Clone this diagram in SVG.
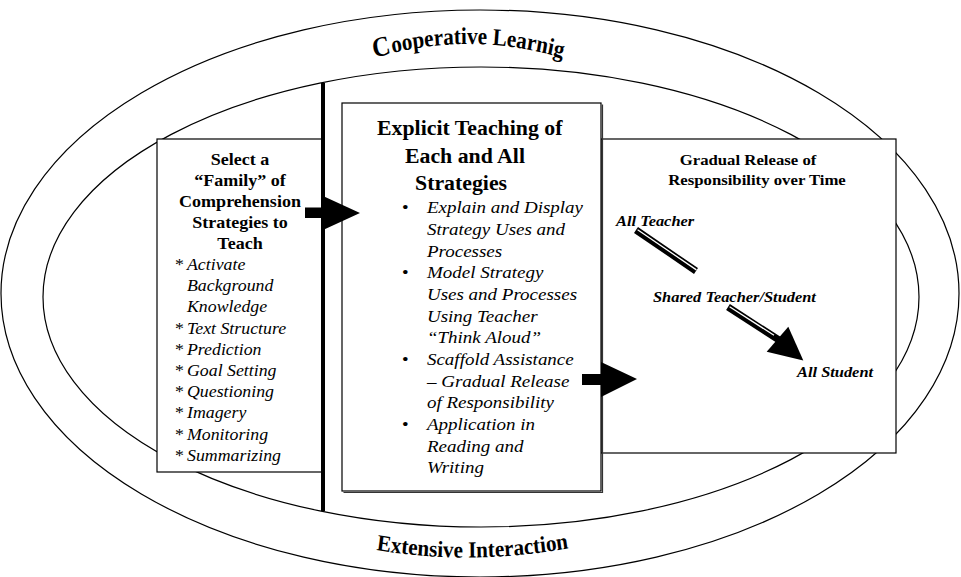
<svg xmlns="http://www.w3.org/2000/svg" width="961" height="577" viewBox="0 0 961 577">
<style>
 .ring{fill:none;stroke:#000;stroke-width:1.2}
 .box{fill:#fff;stroke:#000;stroke-width:1.2}
 .t{font-family:"Liberation Serif","Times New Roman",serif;fill:#000}
 .b{font-weight:bold}
 .i{font-style:italic}
 .n{font-style:normal}
 .mid{text-anchor:middle}
</style>
<defs>
 <path id="arcTop" d="M350.9,61 Q468,27 586.2,61"/>
 <path id="arcBot" d="M350.4,547 Q470,569 595,545"/>
</defs>
<rect width="961" height="577" fill="#fff"/>

<g id="ring-outer"><ellipse class="ring" cx="480" cy="293.5" rx="479" ry="283.5"/></g>
<g id="ring-inner"><ellipse class="ring" cx="481" cy="297" rx="438" ry="230"/></g>

<g id="label-cooperative" transform="matrix(0.88,0,0,1,56.16,0)">
 <text class="t b" font-size="24"><textPath href="#arcTop" startOffset="50%" text-anchor="middle"><tspan font-size="28">C</tspan><tspan dx="1">ooperative Learnig</tspan></textPath></text>
</g>
<g id="label-extensive" transform="matrix(0.92,0,0,1,37.6,0)">
 <text class="t b" font-size="23"><textPath href="#arcBot" startOffset="50%" text-anchor="middle">Extensive Interaction</textPath></text>
</g>

<g id="node-select">
 <rect class="box" x="157" y="139" width="166" height="333"/>
 <g transform="translate(240,0) scale(1.08,1)" class="t b mid" font-size="16.7">
  <text x="0" y="165.5">Select a</text>
  <text x="0" y="186.5">“Family” of</text>
  <text x="0" y="207.5">Comprehension</text>
  <text x="0" y="228">Strategies to</text>
  <text x="0" y="249">Teach</text>
 </g>
 <g transform="translate(175,0) scale(1.08,1)" class="t i" font-size="16.5">
  <text y="270"><tspan x="0" class="n">*</tspan><tspan x="11.1">Activate</tspan></text>
  <text y="291.2"><tspan x="11.1">Background</tspan></text>
  <text y="312.4"><tspan x="11.1">Knowledge</tspan></text>
  <text y="333.6"><tspan x="0" class="n">*</tspan><tspan x="11.1">Text Structure</tspan></text>
  <text y="354.8"><tspan x="0" class="n">*</tspan><tspan x="11.1">Prediction</tspan></text>
  <text y="376"><tspan x="0" class="n">*</tspan><tspan x="11.1">Goal Setting</tspan></text>
  <text y="397.2"><tspan x="0" class="n">*</tspan><tspan x="11.1">Questioning</tspan></text>
  <text y="418.4"><tspan x="0" class="n">*</tspan><tspan x="11.1">Imagery</tspan></text>
  <text y="439.6"><tspan x="0" class="n">*</tspan><tspan x="11.1">Monitoring</tspan></text>
  <text y="460.8"><tspan x="0" class="n">*</tspan><tspan x="11.1">Summarizing</tspan></text>
 </g>
</g>

<g id="divider"><line x1="323" y1="83" x2="323" y2="511" stroke="#000" stroke-width="4"/></g>

<g id="node-gradual">
 <rect class="box" x="601" y="139" width="295" height="314"/>
 <g transform="translate(752,0) scale(1.08,1)" class="t b mid" font-size="15.5">
  <text x="-3.7" y="165">Gradual Release of</text>
  <text x="4.6" y="185">Responsibility over Time</text>
 </g>
 <text class="t b i" font-size="15.2" transform="translate(616,226) scale(1.08,1)">All Teacher</text>
 <text class="t b i" font-size="15.2" transform="translate(653,302) scale(1.08,1)">Shared Teacher/Student</text>
 <text class="t b i" font-size="15.2" transform="translate(797,377) scale(1.08,1)">All Student</text>
</g>

<g id="node-explicit">
 <polyline points="602.5,104.5 602.5,492.5 343.5,492.5" fill="none" stroke="#333" stroke-width="1.2"/>
 <rect class="box" x="342" y="103" width="259" height="388"/>
 <g transform="translate(377,0) scale(1.08,1)" class="t b" font-size="20.2">
  <text x="0" y="135">Explicit Teaching of</text>
  <text x="25.9" y="163">Each and All</text>
  <text x="35.2" y="190">Strategies</text>
 </g>
 <g transform="translate(402,0) scale(1.08,1)" class="t i" font-size="17.6">
  <text y="213.5"><tspan x="0" class="n">•</tspan><tspan x="23.1">Explain and Display</tspan></text>
  <text y="235.2" x="23.1">Strategy Uses and</text>
  <text y="256.8" x="23.1">Processes</text>
  <text y="278.5"><tspan x="0" class="n">•</tspan><tspan x="23.1">Model Strategy</tspan></text>
  <text y="300.1" x="23.1">Uses and Processes</text>
  <text y="321.8" x="23.1">Using Teacher</text>
  <text y="343.4" x="23.1">“Think Aloud”</text>
  <text y="365.1"><tspan x="0" class="n">•</tspan><tspan x="23.1">Scaffold Assistance</tspan></text>
  <text y="386.7" x="23.1">– Gradual Release</text>
  <text y="408.4" x="23.1">of Responsibility</text>
  <text y="430"><tspan x="0" class="n">•</tspan><tspan x="23.1">Application in</tspan></text>
  <text y="451.7" x="23.1">Reading and</text>
  <text y="473.3" x="23.1">Writing</text>
 </g>
</g>

<g id="connectors">
 <polygon id="arrow-select-explicit" points="305,207.5 323,207.5 323,196 360,213 323,230 323,218 305,218" fill="#000"/>
 <polygon id="arrow-explicit-gradual" points="582,374 601,374 601,362 637,379 601,397 601,385 582,385" fill="#000"/>
 <g id="arrow-teacher-shared">
  <line x1="636" y1="230" x2="696" y2="271" stroke="#000" stroke-width="7"/>
  <line x1="637.6" y1="229.7" x2="696.4" y2="269.9" stroke="#fff" stroke-width="1.3"/>
 </g>
 <g id="arrow-shared-student">
  <line x1="728" y1="307" x2="779" y2="340" stroke="#000" stroke-width="7"/>
  <line x1="729.6" y1="306.8" x2="774" y2="335.3" stroke="#fff" stroke-width="1.3"/>
  <polygon points="766.7,351.7 788.3,326.7 803.3,360.5" fill="#000"/>
 </g>
</g>
</svg>
